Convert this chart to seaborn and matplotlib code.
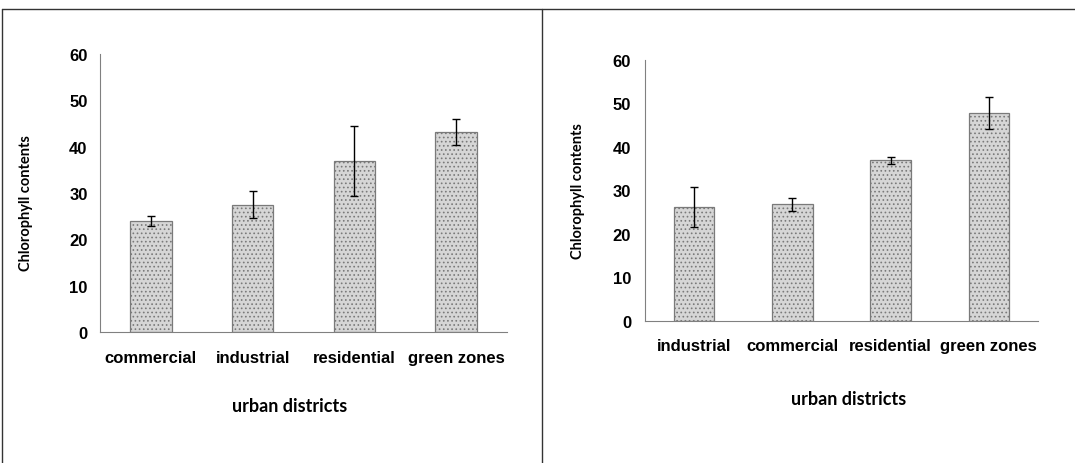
import matplotlib
matplotlib.use("Agg")
import matplotlib.pyplot as plt
from matplotlib.lines import Line2D
import seaborn as sns
import pandas as pd

# ---- data ----
left_categories = ["commercial", "industrial", "residential", "green zones"]
left_means = [24.0, 27.5, 36.9, 43.2]
left_errors = [1.1, 2.9, 7.6, 2.8]

right_categories = ["industrial", "commercial", "residential", "green zones"]
right_means = [26.2, 26.8, 36.9, 47.9]
right_errors = [4.7, 1.5, 0.8, 3.7]

y_ticks = [0, 10, 20, 30, 40, 50, 60]
y_label = "Chlorophyll contents"
x_label = "urban districts"

sns.set_style("white")
plt.rcParams["font.family"] = ["Liberation Sans", "DejaVu Sans"]
plt.rcParams["hatch.linewidth"] = 0.7
plt.rcParams["text.color"] = "black"
plt.rcParams["axes.labelcolor"] = "black"
plt.rcParams["xtick.labelcolor"] = "black"
plt.rcParams["ytick.labelcolor"] = "black"

W, H = 1075, 464
fig = plt.figure(figsize=(W / 100, H / 100), dpi=100)
fig.patch.set_facecolor("white")


def panel(rect, cats, means, errs, ylab_pos, xlab_pos, ytick_pad, xtick_pad):
    ax = fig.add_axes(rect)
    df = pd.DataFrame({"district": cats, "value": means})
    sns.barplot(data=df, x="district", y="value", order=cats, ax=ax,
                width=0.41, color="#d6d6d6", saturation=1,
                edgecolor="#7a7a7a", linewidth=0.9, hatch="....")
    ax.errorbar(range(len(cats)), means, yerr=errs, fmt="none",
                ecolor="black", elinewidth=1.0, capsize=2.6, capthick=1.0)
    ax.set_xlim(-0.5, len(cats) - 0.5)
    ax.set_ylim(0, 60)
    ax.set_yticks(y_ticks)
    ax.set_yticklabels([str(t) for t in y_ticks], fontsize=12,
                       fontweight="bold", color="black")
    ax.set_xticks(range(len(cats)))
    ax.set_xticklabels(cats, fontsize=12, fontweight="bold", color="black")
    ax.set_xticks([i - 0.5 for i in range(len(cats) + 1)], minor=True)
    ax.tick_params(axis="x", which="major", length=0, pad=xtick_pad)
    ax.tick_params(axis="x", which="minor", length=4, direction="in",
                   color="#555555", width=0.8)
    ax.tick_params(axis="y", length=3, direction="in", color="#777777",
                   width=0.8, pad=ytick_pad)
    for s in ["top", "right"]:
        ax.spines[s].set_visible(False)
    for s in ["left", "bottom"]:
        ax.spines[s].set_color("#808080")
        ax.spines[s].set_linewidth(0.8)
    ax.set_ylabel(y_label, fontsize=10.5, fontweight="bold", family="Lato",
                  color="black")
    ax.yaxis.set_label_coords(*ylab_pos)
    ax.set_xlabel(x_label, fontsize=13, fontweight="bold", family="Lato",
                  color="black")
    ax.xaxis.set_label_coords(*xlab_pos)
    return ax


panel([100 / W, (H - 333) / H, 407 / W, 278 / H],
      left_categories, left_means, left_errors,
      (-0.165, 0.468), (0.467, -0.234), 9, 13)
panel([645 / W, (H - 322) / H, 393 / W, 261 / H],
      right_categories, right_means, right_errors,
      (-0.153, 0.502), (0.517, -0.264), 10, 12)

# frame lines
fr = dict(color="#333333", linewidth=1.0, transform=fig.transFigure)
fig.add_artist(Line2D([2 / W, 1.0], [1 - 10 / H, 1 - 10 / H], **fr))
fig.add_artist(Line2D([2 / W, 2 / W], [0, 1 - 10 / H], **fr))
fig.add_artist(Line2D([542 / W, 542 / W], [0, 1 - 10 / H], **fr))

fig.savefig("out.png", dpi=100, facecolor="white")
